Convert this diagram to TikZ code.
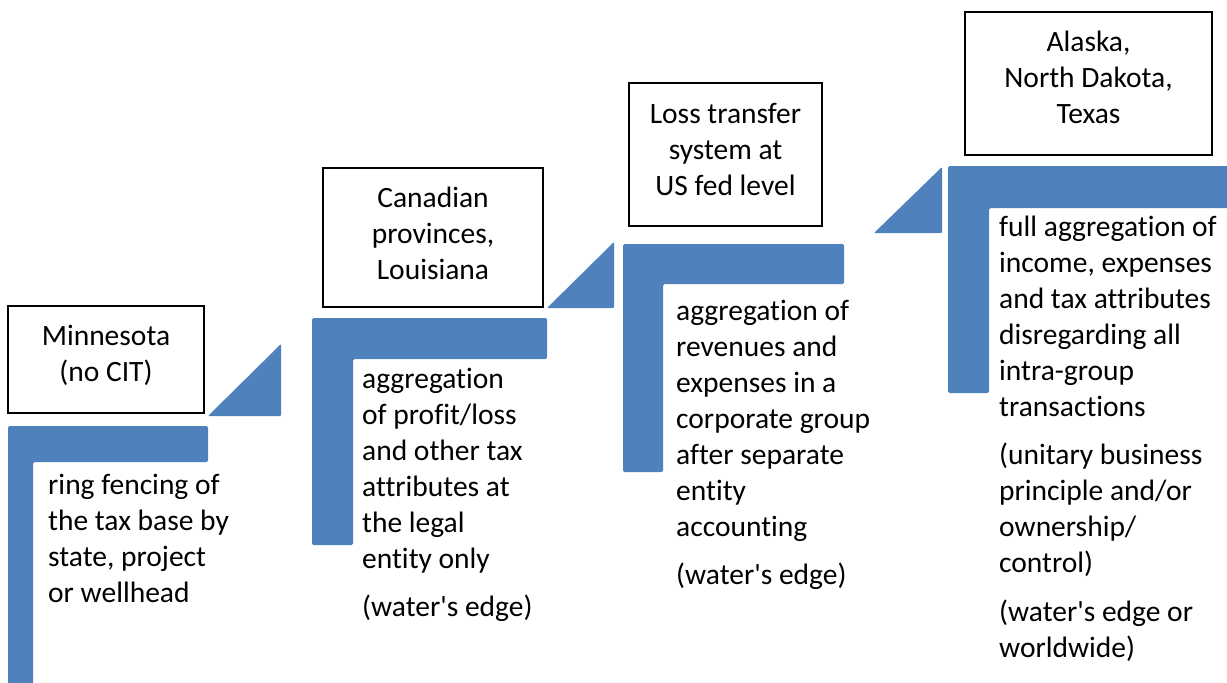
\documentclass[tikz,border=0pt]{standalone}
\usepackage{fontspec}
\setmainfont{Carlito}[Ligatures=NoCommon]
\definecolor{stepblue}{HTML}{4F81BD}
\newcommand{\fst}{\rule{0pt}{25pt}}
\newcommand{\apos}{\textquotesingle}
\begin{document}
\begin{tikzpicture}[x=1pt,y=-1pt,
  stepbar/.style={fill=stepblue, rounded corners=1.5pt},
  risetri/.style={fill=stepblue, rounded corners=1pt},
  lblbox/.style={draw=black, line width=1.5pt, inner sep=0pt},
  lbltext/.style={align=center, inner sep=0pt, font=\fontsize{29.5}{36}\selectfont},
  desc/.style={align=left, anchor=north west, inner sep=0pt,
    font=\fontsize{29.5}{36}\selectfont}]
\useasboundingbox (0,0) rectangle (1227,683);
\clip (0,0) rectangle (1227,683);
% steps
\fill[stepbar] (8,426) -- (208,426) -- (208,462) -- (33,462) -- (33,695) -- (8,695) -- cycle;
\fill[stepbar] (312,318) -- (547,318) -- (547,359) -- (353,359) -- (353,545) -- (312,545) -- cycle;
\fill[stepbar] (623,244) -- (844,244) -- (844,284) -- (663,284) -- (663,472) -- (623,472) -- cycle;
\fill[stepbar] (948,166) -- (1240,166) -- (1240,208) -- (989,208) -- (989,393) -- (948,393) -- cycle;
% triangles
\fill[risetri] (208,416) -- (281,416) -- (281,344) -- cycle;
\fill[risetri] (547,308) -- (614,308) -- (614,242) -- cycle;
\fill[risetri] (874,233) -- (942,233) -- (942,167) -- cycle;
% label boxes
\node[lblbox, minimum width=196pt, minimum height=107pt] (mn) at (106,359.5) {};
\node[lbltext] (mnt) at ([yshift=4pt]mn.center) {Minnesota\\(no CIT)};
\node[lblbox, minimum width=220pt, minimum height=139pt] (ca) at (433,237.5) {};
\node[lbltext] (cat) at ([yshift=4pt]ca.center) {Canadian\\provinces,\\Louisiana};
\node[lblbox, minimum width=193pt, minimum height=143pt] (us) at (725.5,154.5) {};
\node[lbltext] (ust) at ([yshift=5.5pt]us.center) {Loss transfer\\system at\\US fed level};
\node[lblbox, minimum width=247pt, minimum height=143pt] (ak) at (1088.5,83.5) {};
\node[lbltext] (akt) at ([yshift=6pt]ak.center) {Alaska,\\North Dakota,\\Texas};
% descriptions
\node[desc] (d1) at (48,469) {\fst ring fencing of\\the tax base by\\state, project\\or wellhead};
\node[desc] (d2) at (362,363) {\fst aggregation\\of profit/loss\\and other tax\\attributes at\\the legal\\entity only\\[12pt](water\apos s edge)};
\node[desc] (d3) at (676,295) {\fst aggregation of\\revenues and\\expenses in a\\corporate group\\after separate\\entity\\accounting\\[12pt](water\apos s edge)};
\node[desc] (d4) at (999,211) {\fst full aggregation of\\income, expenses\\and tax attributes\\disregarding all\\intra-group\\transactions\\[12pt](unitary business\\principle and/or\\ownership/\\control)\\[13pt](water\apos s edge or\\worldwide)};
\end{tikzpicture}
\end{document}
